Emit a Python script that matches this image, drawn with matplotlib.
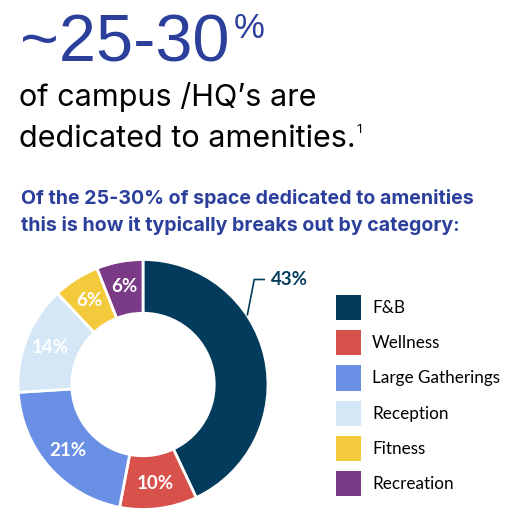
import numpy as np
import matplotlib
matplotlib.use("Agg")
import matplotlib.pyplot as plt
from matplotlib.patches import Patch

# ==========================================
# DATA
# ==========================================

categories = ["F&B", "Wellness", "Large Gatherings", "Reception", "Fitness", "Recreation"]
shares = [43, 10, 21, 14, 6, 6]
colors = ["#033B5C", "#D9514B", "#6A90E6", "#D5E6F6", "#F2CA3C", "#7A3A86"]
label_colors = ["#033B5C", "white", "white", "white", "white", "white"]

headline = "~25-30"
headline_sup = "%"
sub_lines = ["of campus /HQ\u2019s are", "dedicated to amenities."]
footnote = "1"
intro_lines = ["Of the 25-30% of space dedicated to amenities",
               "this is how it typically breaks out by category:"]

BLUE = "#2B3F9B"
W, H = 525, 520

fig = plt.figure(figsize=(W / 100, H / 100), dpi=100)
fig.patch.set_facecolor("white")


def px(x, y):
    # pixel coords (top-left origin) -> figure fraction
    return x / W, 1 - y / H


# ==========================================
# HEADLINE TEXT
# ==========================================

renderer = fig.canvas.get_renderer()

t = fig.text(*px(20, 61), headline, fontsize=48, family="Liberation Sans",
             color=BLUE, va="baseline", ha="left")
bb = t.get_window_extent(renderer)
fig.text(bb.x1 / W + 4 / W, px(0, 38)[1], headline_sup, fontsize=25,
         family="Liberation Sans", color=BLUE, va="baseline", ha="left")

for i, line in enumerate(sub_lines):
    t2 = fig.text(*px(19, 106 + 41 * i), line, fontsize=22, family="Inter",
                  color="black", va="baseline", ha="left")
bb2 = t2.get_window_extent(renderer)
fig.text(bb2.x1 / W + 1 / W, px(0, 133)[1], footnote, fontsize=9.5,
         family="Inter", color="black", va="baseline", ha="left")

for i, line in enumerate(intro_lines):
    fig.text(*px(21, 204 + 27 * i), line, fontsize=14.1, family="Inter",
             fontweight="bold", color=BLUE, va="baseline", ha="left")

# ==========================================
# DONUT
# ==========================================

cx, cy, r_px = 143, 384.5, 125
lim = 1.04
ax = fig.add_axes([(cx - r_px * lim) / W, (H - cy - r_px * lim) / H,
                   2 * r_px * lim / W, 2 * r_px * lim / H])

wedges, _ = ax.pie(shares, colors=colors, startangle=90, counterclock=False,
                   radius=1.0,
                   wedgeprops=dict(width=0.43, edgecolor="white", linewidth=2))
ax.set_xlim(-lim, lim)
ax.set_ylim(-lim, lim)
ax.set_aspect("equal")
ax.axis("off")

for i, w in enumerate(wedges):
    mid = np.deg2rad((w.theta1 + w.theta2) / 2)
    if i == 0:
        # outside label with leader line
        ang = np.deg2rad(33.5)
        x0, y0 = np.cos(ang), np.sin(ang)
        ax.plot([x0, 0.89, 0.976], [y0, 0.84, 0.84], color=colors[0],
                lw=1.2, clip_on=False, solid_capstyle="butt")
        ax.text(1.02, 0.84, f"{shares[i]}%", color=label_colors[i],
                fontsize=13.5, family="Lato", fontweight="bold",
                va="center", ha="left", clip_on=False)
    else:
        ax.text(0.8 * np.cos(mid), 0.8 * np.sin(mid), f"{shares[i]}%",
                color=label_colors[i], fontsize=13.5, family="Lato",
                fontweight="bold", va="center", ha="center")

# ==========================================
# LEGEND
# ==========================================

handles = [Patch(facecolor=c, edgecolor="none") for c in colors]
fig.legend(handles, categories, loc="upper left",
           bbox_to_anchor=px(336, 295), bbox_transform=fig.transFigure,
           frameon=False, borderpad=0, borderaxespad=0,
           handlelength=1.45, handleheight=1.9, handletextpad=0.65,
           labelspacing=0.58, prop=dict(family="Lato", size=12.3))

fig.savefig("out.png", dpi=100, facecolor="white")
